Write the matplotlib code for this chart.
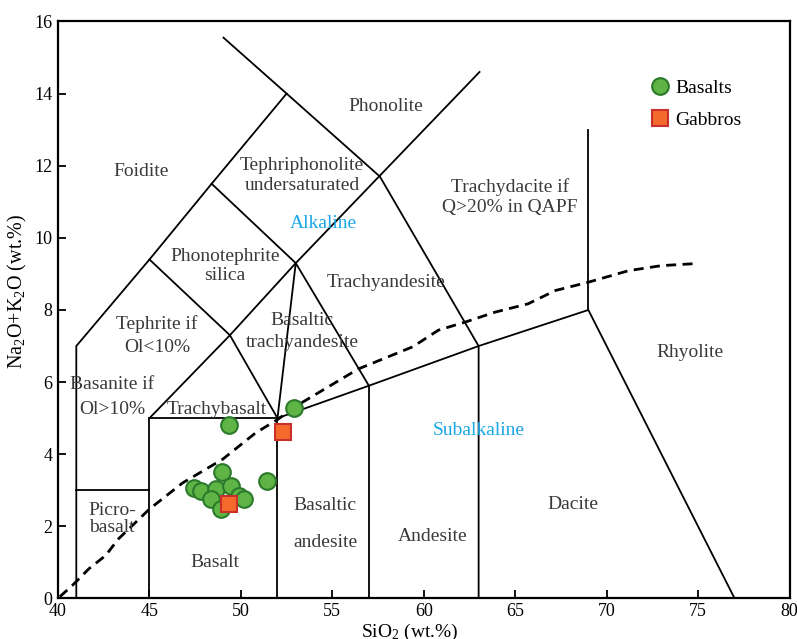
"""TAS classification diagram (Na2O+K2O vs SiO2) for basalts and gabbros."""

import matplotlib
matplotlib.use("Agg")
import matplotlib.pyplot as plt

plt.rcParams["font.family"] = ["Liberation Serif", "DejaVu Serif"]
plt.rcParams["mathtext.default"] = "regular"

# samples (SiO2, Na2O+K2O in wt.%)
basalt_sio2 = [47.43, 47.80, 48.62, 48.96, 49.34, 49.44, 48.34, 49.89, 50.16, 48.89, 51.42, 52.90]
basalt_alk = [3.06, 2.98, 3.03, 3.50, 4.82, 3.12, 2.75, 2.85, 2.75, 2.48, 3.26, 5.29]
gabbro_sio2 = [52.31, 49.34]
gabbro_alk = [4.61, 2.62]

# field boundaries of the TAS diagram
field_lines = [
    [(41, 0), (41, 7), (45, 9.4), (48.4, 11.5), (52.5, 14), (57.6, 11.7), (63, 7), (63, 0)],
    [(41, 3), (45, 3)],
    [(45, 0), (45, 5), (52, 5), (52, 0)],
    [(45, 5), (49.4, 7.3), (52, 5)],
    [(45, 9.4), (49.4, 7.3), (53, 9.3), (48.4, 11.5)],
    [(52, 5), (53, 9.3), (57, 5.9)],
    [(53, 9.3), (63.05, 14.6)],
    [(49.05, 15.55), (52.5, 14)],
    [(52, 5), (57, 5.9), (63, 7), (69, 8), (77, 0)],
    [(57, 5.9), (57, 0)],
    [(69, 8), (69, 13)],
]

# Irvine & Baragar alkaline / subalkaline divide
divide_sio2 = [40.1, 40.8, 41.7, 42.6, 43.3, 45.0, 46.8, 49.0, 50.8, 52.0, 53.0, 56.4,
               59.4, 60.8, 62.3, 63.9, 65.7, 67.2, 69.0, 71.2, 73.0, 75.0]
divide_alk = [0.05, 0.37, 0.83, 1.19, 1.65, 2.48, 3.2, 3.86, 4.59, 4.96, 5.33, 6.36,
              6.98, 7.44, 7.67, 7.94, 8.17, 8.54, 8.77, 9.09, 9.23, 9.29]

# field names, one entry per text line
field_names = [
    ("Foidite", 44.54, 11.83),
    ("Phonolite", 57.93, 13.63),
    ("Tephriphonolite", 53.34, 12.0),
    ("undersaturated", 53.34, 11.45),
    ("Trachydacite if", 64.71, 11.42),
    ("Q>20% in QAPF", 64.71, 10.83),
    ("Phonotephrite", 49.13, 9.48),
    ("silica", 49.13, 8.95),
    ("Trachyandesite", 57.93, 8.75),
    ("Tephrite if", 45.41, 7.6),
    ("Ol<10%", 45.41, 6.97),
    ("Basaltic", 53.34, 7.72),
    ("trachyandesite", 53.34, 7.09),
    ("Rhyolite", 74.55, 6.81),
    ("Basanite if", 42.95, 5.92),
    ("Ol>10%", 42.95, 5.23),
    ("Trachybasalt", 48.68, 5.23),
    ("Picro-", 42.95, 2.45),
    ("basalt", 42.95, 1.98),
    ("Basaltic", 54.6, 2.59),
    ("andesite", 54.6, 1.54),
    ("Dacite", 68.16, 2.62),
    ("Andesite", 60.5, 1.71),
    ("Basalt", 48.58, 0.99),
]
series_names = [("Alkaline", 54.49, 10.41), ("Subalkaline", 62.98, 4.67)]

fig = plt.figure(figsize=(7.97, 6.39), dpi=100)
ax = fig.add_axes([0.0728, 0.0634, 0.9178, 0.903])

for line in field_lines:
    xs, ys = zip(*line)
    ax.plot(xs, ys, color="black", lw=1.3, solid_joinstyle="miter", zorder=2)

ax.plot(divide_sio2, divide_alk, color="black", lw=2.0, dashes=(3.6, 2.3), zorder=2)

for name, x, y in field_names:
    ax.text(x, y, name, ha="center", va="center", fontsize=14, color="#3a3a3a", zorder=3)
for name, x, y in series_names:
    ax.text(x, y, name, ha="center", va="center", fontsize=14, color="#1aa7e8", zorder=3)

ax.plot(basalt_sio2, basalt_alk, "o", ms=12, mfc="#5fb446", mec="#2b7a2b", mew=1.5,
        ls="none", label="Basalts", zorder=4)
ax.plot(gabbro_sio2, gabbro_alk, "s", ms=11.5, mfc="#f46a2c", mec="#c9302c", mew=1.5,
        ls="none", label="Gabbros", zorder=5)

ax.set_xlim(40, 80)
ax.set_ylim(0, 16)
ax.set_xticks(range(40, 81, 5))
ax.set_yticks(range(0, 17, 2))
ax.tick_params(direction="in", length=6, width=1.3, labelsize=13, colors="black")
ax.tick_params(axis="x", pad=3)
ax.tick_params(axis="y", pad=4)
for spine in ax.spines.values():
    spine.set_linewidth(1.6)
ax.set_xlabel("SiO$_2$ (wt.%)", fontsize=14)
ax.set_ylabel("Na$_2$O+K$_2$O (wt.%)", fontsize=14.5)
ax.xaxis.set_label_coords(0.481, -0.040)
ax.yaxis.set_label_coords(-0.040, 0.533)

ax.legend(loc="upper left", bbox_to_anchor=(0.807, 0.9003), frameon=False, fontsize=14,
          handletextpad=0.2, labelspacing=0.75, borderaxespad=0, borderpad=0,
          handlelength=1.2)

fig.savefig("out.png", dpi=100)
plt.close(fig)
